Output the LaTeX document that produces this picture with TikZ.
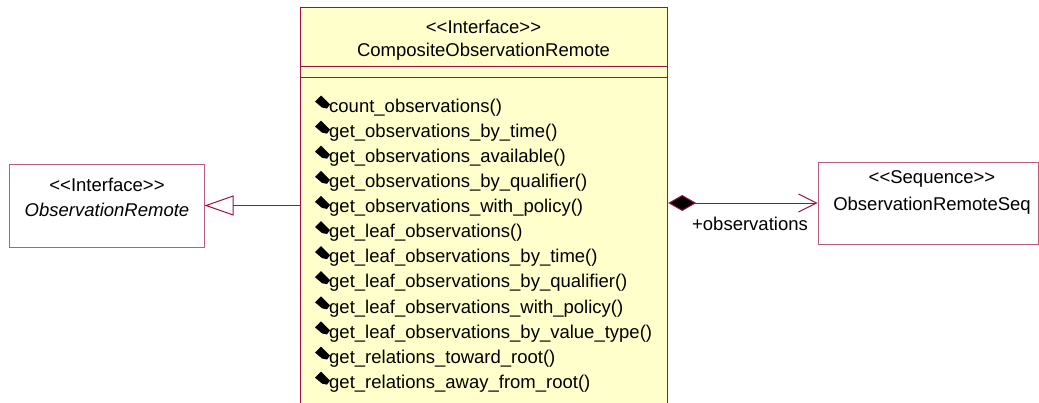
\documentclass[tikz,border=0pt]{standalone}
\usepackage{fontspec}
\setmainfont{Liberation Sans}
\usetikzlibrary{arrows.meta}
\definecolor{umlborder}{HTML}{A0103F}
\definecolor{umlpink}{HTML}{C05A7A}
\definecolor{umlfill}{HTML}{FFFFCC}
\begin{document}
\begin{tikzpicture}[x=1pt,y=-1pt,
  txt/.style={inner sep=0pt, font=\fontsize{18.5}{22}\selectfont, text=black},
  meth/.style={txt, anchor=west, text height=13.5pt, text depth=4pt},
  mainbox/.style={draw=umlborder, fill=umlfill, line width=1.2pt, inner sep=0pt},
  pinkbox/.style={draw=umlpink, fill=white, line width=1pt, inner sep=0pt},
  conn/.style={draw=umlborder, line width=1pt},
  bullet/.style={fill=black}
]
\useasboundingbox (0,0) rectangle (1039,402);
\clip (0,0) rectangle (1039,402);
% main class box
\node[mainbox, minimum width=367pt, minimum height=430pt, anchor=north west] (main) at (300,7) {};
\draw[umlborder, line width=1pt] (main.west |- 0,66) -- (main.east |- 0,66);
\draw[umlborder, line width=1pt] (main.west |- 0,77) -- (main.east |- 0,77);
\node[txt] (mst) at (483.5,27) {<{}<Interface>{}>};
\node[txt] (mnm) at (483.5,52) {CompositeObservationRemote};
\foreach \t [count=\i] in {count\_observations(),get\_observations\_by\_time(),get\_observations\_available(),get\_observations\_by\_qualifier(),get\_observations\_with\_policy(),get\_leaf\_observations(),get\_leaf\_observations\_by\_time(),get\_leaf\_observations\_by\_qualifier(),get\_leaf\_observations\_with\_policy(),get\_leaf\_observations\_by\_value\_type(),get\_relations\_toward\_root(),get\_relations\_away\_from\_root()} {
  \pgfmathsetmacro{\yc}{107.5+25.1*(\i-1)}
  \node[meth] (m\i) at (329,\yc) {\t};
  \fill[bullet] (315,\yc-6) -- (321,\yc-12) -- (330,\yc-3) -- (327,\yc+1) -- (322,\yc) -- cycle;
}
% left interface box
\node[pinkbox, minimum width=195pt, minimum height=83pt] (left) at (106.5,205.5) {};
\node[txt] (lst) at (107,185) {<{}<Interface>{}>};
\node[txt, font=\fontsize{18.5}{22}\selectfont\itshape] (lnm) at (107,210) {ObservationRemote};
% right sequence box
\node[pinkbox, minimum width=220pt, minimum height=82pt] (right) at (928,203) {};
\node[txt] (rst) at (932,179) {<{}<Sequence>{}>};
\node[txt] (rnm) at (932,206) {ObservationRemoteSeq};
% generalization
\draw[conn, -{Triangle[open, length=29pt, width=20pt]}] (main.west |- left.east) -- (left.east);
% composition
\draw[conn, {Diamond[length=28pt, width=16pt, fill=black]}-{Straight Barb[length=18pt, width=18pt]}] (main.east |- right.west) -- (right.west);
\node[txt] (lbl) at (750,224) {+observations};
\end{tikzpicture}
\end{document}
